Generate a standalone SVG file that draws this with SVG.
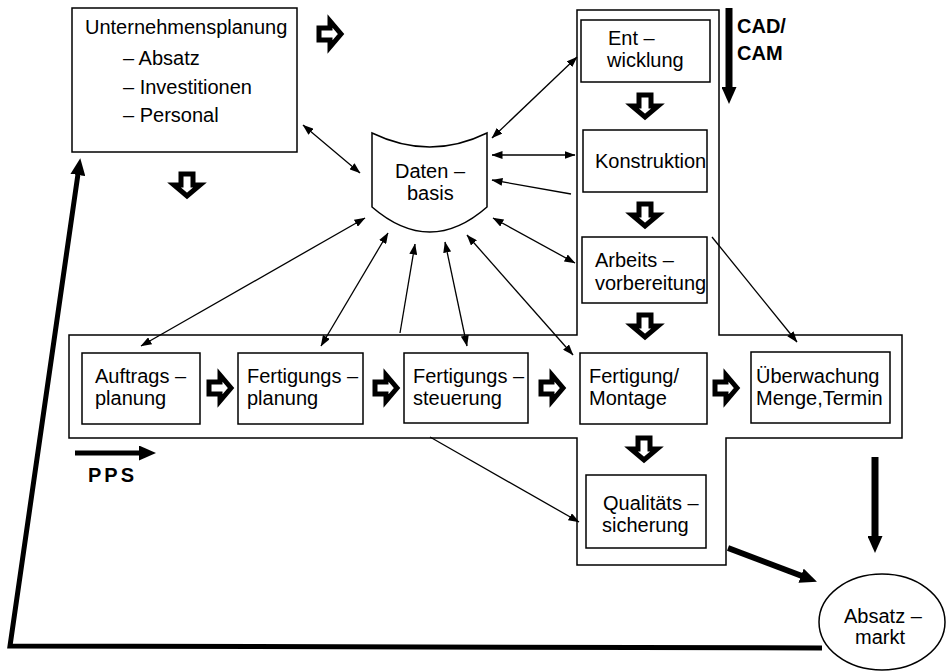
<svg xmlns="http://www.w3.org/2000/svg" xmlns:xlink="http://www.w3.org/1999/xlink" width="950" height="671" viewBox="0 0 950 671">
<style>
text{font-family:"Liberation Sans",Arial,sans-serif;font-size:20px;fill:#000}
.b{font-weight:bold}
.box{fill:#fff;stroke:#000;stroke-width:1.5}
.thin{stroke:#000;stroke-width:1.3;fill:none}
.thick{stroke:#000;fill:none}
.blk{fill:#fff;stroke:#000;stroke-width:5;stroke-linejoin:miter}
</style>
<defs>
<marker id="ah" markerUnits="userSpaceOnUse" markerWidth="11" markerHeight="8" viewBox="0 0 11 8" refX="10.5" refY="4" orient="auto-start-reverse"><path d="M0,0 L11,4 L0,8 Z" fill="#000"/></marker>
<marker id="big" markerUnits="userSpaceOnUse" markerWidth="17" markerHeight="15" viewBox="0 0 17 15" refX="1" refY="7.5" orient="auto"><path d="M0,0 L17,7.5 L0,15 Z" fill="#000"/></marker>
<path id="darr" class="blk" d="M-6,-11 L6,-11 L6,0 L13,0 L0,11 L-13,0 L-6,0 Z"/>
</defs>
<rect width="950" height="671" fill="#fff"/>

<g id="cross">
<path class="box" d="M577,10 L719,10 L719,335 L902,335 L902,438 L726,438 L726,565 L577,565 L577,438 L69,438 L69,335 L577,335 Z"/>
</g>

<g id="unternehmensplanung">
<rect class="box" x="72" y="8" width="225" height="144"/>
<text x="85" y="34">Unternehmensplanung</text>
<text x="123" y="65">– Absatz</text>
<text x="123" y="94">– Investitionen</text>
<text x="123" y="122">–  Personal</text>
</g>

<g id="datenbasis">
<path class="box" d="M372,133 Q430,161 487,133 L487,207 Q430,257 372,207 Z"/>
<text x="395" y="178">Daten –</text>
<text x="407" y="200">basis</text>
</g>

<g id="entwicklung">
<rect class="box" x="581" y="20" width="129" height="62"/>
<text x="608" y="45">Ent –</text>
<text x="607" y="67">wicklung</text>
</g>
<g id="konstruktion">
<rect class="box" x="583" y="130" width="124" height="62"/>
<text x="595" y="168">Konstruktion</text>
</g>
<g id="arbeitsvorbereitung">
<rect class="box" x="582" y="237" width="125" height="66"/>
<text x="595" y="267">Arbeits –</text>
<text x="595" y="290">vorbereitung</text>
</g>
<g id="auftragsplanung">
<rect class="box" x="82" y="353" width="118" height="71"/>
<text x="95" y="383">Auftrags –</text>
<text x="95" y="405">planung</text>
</g>
<g id="fertigungsplanung">
<rect class="box" x="238" y="353" width="125" height="71"/>
<text x="247" y="383">Fertigungs –</text>
<text x="247" y="405">planung</text>
</g>
<g id="fertigungssteuerung">
<rect class="box" x="404" y="353" width="124" height="70"/>
<text x="413" y="383">Fertigungs –</text>
<text x="413" y="405">steuerung</text>
</g>
<g id="fertigungmontage">
<rect class="box" x="580" y="353" width="127" height="71"/>
<text x="589" y="383">Fertigung/</text>
<text x="589" y="405">Montage</text>
</g>
<g id="ueberwachung">
<rect class="box" x="751" y="352" width="139" height="71"/>
<text x="756" y="383">Überwachung</text>
<text x="756" y="405">Menge,Termin</text>
</g>
<g id="qualitaetssicherung">
<rect class="box" x="586" y="475" width="120" height="73"/>
<text x="603" y="510">Qualitäts –</text>
<text x="602" y="532">sicherung</text>
</g>
<g id="absatzmarkt">
<ellipse class="box" cx="882" cy="622" rx="63" ry="48"/>
<text x="844" y="623">Absatz –</text>
<text x="855" y="644">markt</text>
</g>

<g id="labels">
<text class="b" x="737" y="33">CAD/</text>
<text class="b" x="737" y="60">CAM</text>
<text class="b" x="88" y="482" font-size="18" letter-spacing="3">PPS</text>
</g>

<g id="blockarrows">
<use xlink:href="#darr" transform="translate(187,185)"/>
<use xlink:href="#darr" transform="translate(645,106)"/>
<use xlink:href="#darr" transform="translate(645,215)"/>
<use xlink:href="#darr" transform="translate(645,326)"/>
<use xlink:href="#darr" transform="translate(644,449)"/>
<use xlink:href="#darr" transform="translate(330,34) rotate(-90)"/>
<use xlink:href="#darr" transform="translate(220,388) rotate(-90)"/>
<use xlink:href="#darr" transform="translate(386,388) rotate(-90)"/>
<use xlink:href="#darr" transform="translate(552,388) rotate(-90)"/>
<use xlink:href="#darr" transform="translate(726,388) rotate(-90)"/>
</g>

<g id="connectors">
<line class="thin" x1="303" y1="125" x2="360" y2="173" marker-start="url(#ah)" marker-end="url(#ah)"/>
<line class="thin" x1="492" y1="138" x2="577" y2="57" marker-start="url(#ah)" marker-end="url(#ah)"/>
<line class="thin" x1="492" y1="155" x2="575" y2="155" marker-start="url(#ah)" marker-end="url(#ah)"/>
<line class="thin" x1="571" y1="194" x2="492" y2="180" marker-end="url(#ah)"/>
<line class="thin" x1="493" y1="218" x2="575" y2="263" marker-start="url(#ah)" marker-end="url(#ah)"/>
<line class="thin" x1="365" y1="218" x2="141" y2="346" marker-start="url(#ah)" marker-end="url(#ah)"/>
<line class="thin" x1="388" y1="233" x2="321" y2="346" marker-start="url(#ah)" marker-end="url(#ah)"/>
<line class="thin" x1="400" y1="333" x2="415" y2="244" marker-end="url(#ah)"/>
<line class="thin" x1="445" y1="242" x2="467" y2="346" marker-start="url(#ah)" marker-end="url(#ah)"/>
<line class="thin" x1="467" y1="235" x2="573" y2="355" marker-start="url(#ah)" marker-end="url(#ah)"/>
<line class="thin" x1="712" y1="237" x2="797" y2="342" marker-end="url(#ah)"/>
<line class="thin" x1="430" y1="437" x2="579" y2="522" marker-end="url(#ah)"/>

<line class="thick" stroke-width="7" x1="729" y1="8" x2="729" y2="88" marker-end="url(#big)"/>
<line class="thick" stroke-width="5" x1="75" y1="453" x2="140" y2="453" marker-end="url(#big)"/>
<line class="thick" stroke-width="7" x1="875" y1="457" x2="875" y2="537" marker-end="url(#big)"/>
<line class="thick" stroke-width="6" x1="728" y1="548" x2="802" y2="576" marker-end="url(#big)"/>
<path class="thick" stroke-width="5" d="M822,648 L10,646 L78,174" stroke-linejoin="miter" marker-end="url(#big)"/>
</g>
</svg>
